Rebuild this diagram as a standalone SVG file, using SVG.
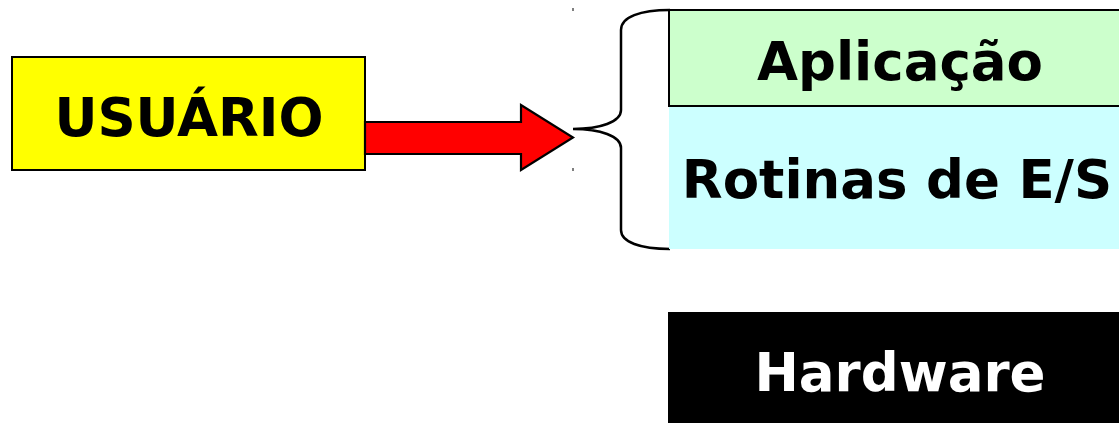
<svg xmlns="http://www.w3.org/2000/svg" width="1119" height="423" viewBox="0 0 1119 423">
<style>
text{font-family:"DejaVu Sans","Liberation Sans",sans-serif;font-weight:bold;font-size:53px;text-anchor:middle}
.ln{fill:none;stroke:#000;stroke-width:2.5}
</style>
<rect width="1119" height="423" fill="#fff"/>
<g id="usuario">
<rect x="12" y="57" width="353" height="113" fill="#ffff00" stroke="#000" stroke-width="2"/>
<text x="189" y="136" fill="#000">USUÁRIO</text>
</g>
<g id="connectors">
<path d="M365,122 H521 V105 L573,137.5 L521,170 V154 H365 Z" fill="#ff0000" stroke="#000" stroke-width="2.2"/>
<path class="ln" d="M670,10 C640,10 621,17 621,30 V110 C621,122 600,129 573,129 C600,129 621,136 621,148 V230 C621,242 640,249 670,249"/>
<rect x="572.5" y="8" width="1" height="3" fill="#000"/>
<rect x="572.5" y="168" width="1" height="3" fill="#000"/>
</g>
<g id="rotinas">
<rect x="669" y="106" width="460" height="143" fill="#ccffff"/>
<text x="897" y="198" fill="#000">Rotinas de E/S</text>
</g>
<g id="aplicacao">
<rect x="669" y="10" width="460" height="96" fill="#ccffcc" stroke="#000" stroke-width="2"/>
<text x="900" y="80" fill="#000">Aplicação</text>
</g>
<g id="hardware">
<rect x="668" y="312" width="461" height="121" fill="#000"/>
<text x="900" y="391" fill="#fff">Hardware</text>
</g>
</svg>
